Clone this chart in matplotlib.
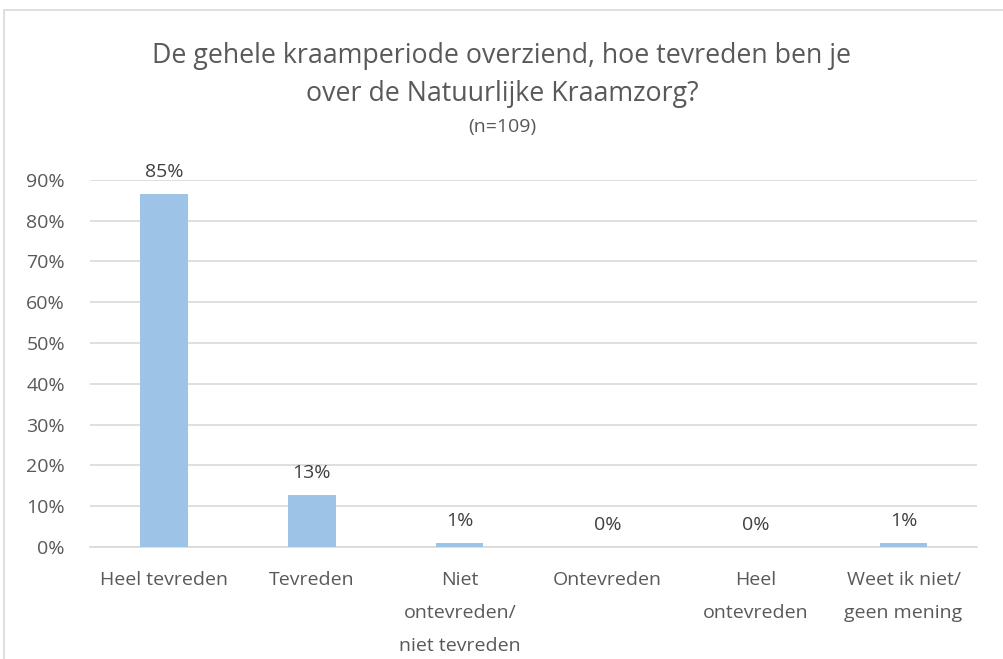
import matplotlib.pyplot as plt
from matplotlib.patches import Rectangle

categories = [
    "Heel tevreden",
    "Tevreden",
    "Niet\nontevreden/\nniet tevreden",
    "Ontevreden",
    "Heel\nontevreden",
    "Weet ik niet/\ngeen mening",
]
percentages = [86.5, 12.8, 0.9, 0.0, 0.0, 0.9]
value_labels = ["85%", "13%", "1%", "0%", "0%", "1%"]
y_ticks = [0, 10, 20, 30, 40, 50, 60, 70, 80, 90]

plt.rcParams["font.family"] = ["Open Sans", "DejaVu Sans"]
text_color = "#595959"

fig = plt.figure(figsize=(10.04, 6.59), dpi=100)
fig.patches.append(
    Rectangle((0.004, -0.01), 1.0, 0.995, transform=fig.transFigure,
              fill=False, edgecolor="#D9D9D9", linewidth=1.2)
)

ax = fig.add_axes([0.0896, 0.170, 0.884, 0.557])
x = range(len(categories))
ax.bar(x, percentages, width=0.32, color="#9DC3E6", zorder=3)

for i, (v, lab) in enumerate(zip(percentages, value_labels)):
    ax.text(i, v + 5.4, lab, ha="center", va="center", fontsize=14,
            color="#404040")

ax.set_xlim(-0.5, len(categories) - 0.5)
ax.set_ylim(0, 90)
ax.set_yticks(y_ticks)
ax.set_yticklabels([f"{t}%" for t in y_ticks])
ax.set_xticks(list(x))
ax.set_xticklabels(categories, linespacing=2.08)
ax.tick_params(axis="both", length=0, labelsize=14, colors=text_color)
ax.tick_params(axis="x", pad=17)
ax.tick_params(axis="y", pad=18)
ax.grid(axis="y", color="#D9D9D9", linewidth=1.2, zorder=0)
for s in ["top", "right", "left"]:
    ax.spines[s].set_visible(False)
ax.spines["bottom"].set_color("#D9D9D9")
ax.spines["bottom"].set_linewidth(1.2)

fig.text(0.5, 0.915, "De gehele kraamperiode overziend, hoe tevreden ben je",
         ha="center", va="center", fontsize=19.3, color=text_color)
fig.text(0.5, 0.857, "over de Natuurlijke Kraamzorg?",
         ha="center", va="center", fontsize=19.3, color=text_color)
fig.text(0.5, 0.807, "(n=109)", ha="center", va="center", fontsize=14,
         color=text_color)

fig.savefig("out.png", dpi=100)
